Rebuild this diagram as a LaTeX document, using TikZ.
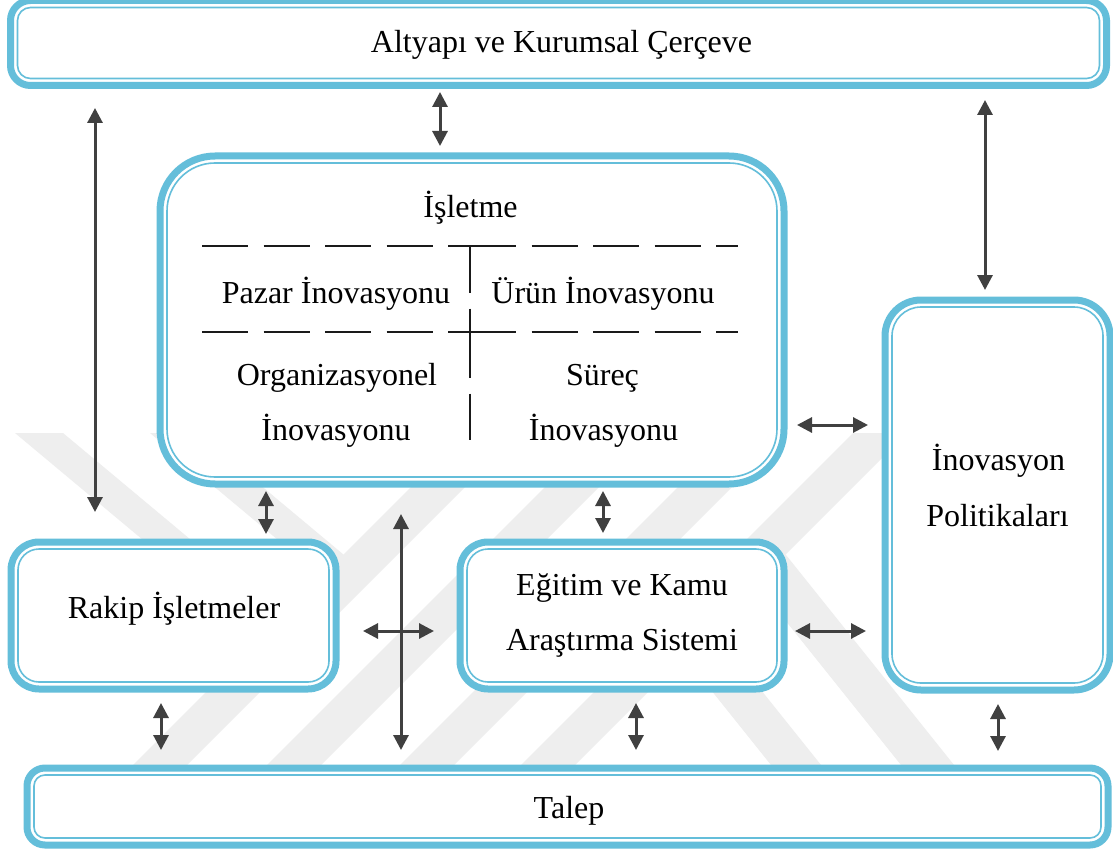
\documentclass[tikz,border=0pt]{standalone}
\usepackage{fontspec}
\setmainfont{Liberation Serif}
\usetikzlibrary{arrows.meta}
\definecolor{boxblue}{RGB}{100,190,218}
\definecolor{arrowgray}{RGB}{64,64,64}
\definecolor{wmgray}{RGB}{238,238,238}
\definecolor{gridink}{RGB}{26,26,26}

\begin{document}
\begin{tikzpicture}[x=1pt,y=-1pt,
  outerbox/.style={draw=boxblue, line width=7pt, fill=white, rounded corners=#1, inner sep=0pt},
  innerbox/.style={draw=boxblue, line width=1.6pt, rounded corners=#1, inner sep=0pt},
  txt/.style={font=\fontsize{32}{38}\selectfont, anchor=base, inner sep=0pt},
  biarrow/.style={draw=arrowgray, line width=3pt,
    {Triangle[width=15pt,length=15pt]}-{Triangle[width=15pt,length=15pt]}},
  gridline/.style={draw=gridink, line width=2.8pt, dash pattern=on 46pt off 15.5pt},
  band/.style={fill=wmgray}]

% page
\useasboundingbox (0,0) rectangle (1113,853);
\fill[white] (0,0) rectangle (1113,853);

% faint background emblem (diagonal bands)
\fill[band] (15,433) -- (63,433) -- (215,560) -- (167,560) -- cycle;
\fill[band] (150,433) -- (198,433) -- (350,560) -- (302,560) -- cycle;
\fill[band] (128,770) -- (182,770) -- (519,433) -- (465,433) -- cycle;
\fill[band] (262,770) -- (316,770) -- (653,433) -- (599,433) -- cycle;
\fill[band] (395,770) -- (449,770) -- (786,433) -- (732,433) -- cycle;
\fill[band] (516,770) -- (570,770) -- (907,433) -- (853,433) -- cycle;
\fill[band] (725,545) -- (778,545) -- (958,770) -- (905,770) -- cycle;
\fill[band] (679,650) -- (729,650) -- (825,770) -- (775,770) -- cycle;

% boxes: thick outer frame with a thin inner frame
\node[outerbox=20pt, minimum width=1096pt, minimum height=85pt] (top) at (558.5,43) {};
\node[innerbox=13pt, minimum width=1082pt, minimum height=71pt] (top-in) at (top.center) {};

\node[outerbox=55pt, minimum width=624pt, minimum height=328pt] (isletme) at (472,320) {};
\node[innerbox=48pt, minimum width=610pt, minimum height=314pt] (isletme-in) at (isletme.center) {};

\node[outerbox=36pt, minimum width=225pt, minimum height=390pt] (inov) at (997.5,495) {};
\node[innerbox=29pt, minimum width=211pt, minimum height=376pt] (inov-in) at (inov.center) {};

\node[outerbox=28pt, minimum width=325pt, minimum height=147pt] (rakip) at (173.5,615.5) {};
\node[innerbox=21pt, minimum width=311pt, minimum height=133pt] (rakip-in) at (rakip.center) {};

\node[outerbox=28pt, minimum width=324pt, minimum height=147pt] (egitim) at (622,615.5) {};
\node[innerbox=21pt, minimum width=310pt, minimum height=133pt] (egitim-in) at (egitim.center) {};

\node[outerbox=18pt, minimum width=1081pt, minimum height=77pt] (talep) at (567.5,806.5) {};
\node[innerbox=11pt, minimum width=1067pt, minimum height=63pt] (talep-in) at (talep.center) {};

% quadrant grid inside the firm box
\draw[gridline] (202,246) -- (470,246);
\draw[gridline] (470,246) -- (738,246);
\draw[gridline] (202,332) -- (470,332);
\draw[gridline] (470,332) -- (738,332);
\draw[gridline] (470,247) -- (470,332);
\draw[gridline] (470,332) -- (470,440);

% arrow columns and rows
\coordinate (c95) at (95,0);
\coordinate (c161) at (161,0);
\coordinate (c266) at (266,0);
\coordinate (c401) at (401,0);
\coordinate (c440) at (440,0);
\coordinate (c603) at (603,0);
\coordinate (c636) at (636,0);
\coordinate (c985) at (985,0);
\coordinate (c998) at (998,0);
\coordinate (r425) at (0,425);
\coordinate (r631) at (0,631);

% connectors
\draw[biarrow, shorten <=19pt, shorten >=26.5pt] (top.south -| c95) -- (rakip.north -| c95);
\draw[biarrow, shorten <=3pt, shorten >=6.5pt] (top.south -| c440) -- (isletme.north -| c440);
\draw[biarrow, shorten <=11pt, shorten >=6.5pt] (top.south -| c985) -- (inov.north -| c985);
\draw[biarrow, shorten <=9.5pt, shorten >=13.5pt] (isletme.east |- r425) -- (inov.west |- r425);
\draw[biarrow, shorten <=3.5pt, shorten >=4.5pt] (isletme.south -| c266) -- (rakip.north -| c266);
\draw[biarrow, shorten <=3.5pt, shorten >=5.5pt] (isletme.south -| c603) -- (egitim.north -| c603);
\draw[biarrow, shorten <=26.5pt, shorten >=14.5pt] (isletme.south -| c401) -- (talep.north -| c401);
\draw[biarrow, shorten <=23.5pt, shorten >=22.5pt] (rakip.east |- r631) -- (egitim.west |- r631);
\draw[biarrow, shorten <=7.5pt, shorten >=15.5pt] (egitim.east |- r631) -- (inov.west |- r631);
\draw[biarrow, shorten <=10.5pt, shorten >=14.5pt] (rakip.south -| c161) -- (talep.north -| c161);
\draw[biarrow, shorten <=10.5pt, shorten >=14.5pt] (egitim.south -| c636) -- (talep.north -| c636);
\draw[biarrow, shorten <=10.5pt, shorten >=13.5pt] (inov.south -| c998) -- (talep.north -| c998);

% texts
\node[txt] (top-t) at (561.5,53) {Altyapı ve Kurumsal Çerçeve};
\node[txt] (isletme-t) at (470.5,218) {İşletme};
\node[txt] (pazar-t) at (336,303) {Pazar İnovasyonu};
\node[txt] (urun-t) at (603,303) {Ürün İnovasyonu};
\node[txt] (org-t1) at (337,385) {Organizasyonel};
\node[txt] (org-t2) at (336,440) {İnovasyonu};
\node[txt] (surec-t1) at (602.5,385) {Süreç};
\node[txt] (surec-t2) at (603.5,440) {İnovasyonu};
\node[txt] (inov-t1) at (998.5,470) {İnovasyon};
\node[txt] (inov-t2) at (997.5,526) {Politikaları};
\node[txt] (rakip-t) at (174,618) {Rakip İşletmeler};
\node[txt] (egitim-t1) at (622,595) {Eğitim ve Kamu};
\node[txt] (egitim-t2) at (622,650) {Araştırma Sistemi};
\node[txt] (talep-t) at (569,818) {Talep};
\end{tikzpicture}
\end{document}
